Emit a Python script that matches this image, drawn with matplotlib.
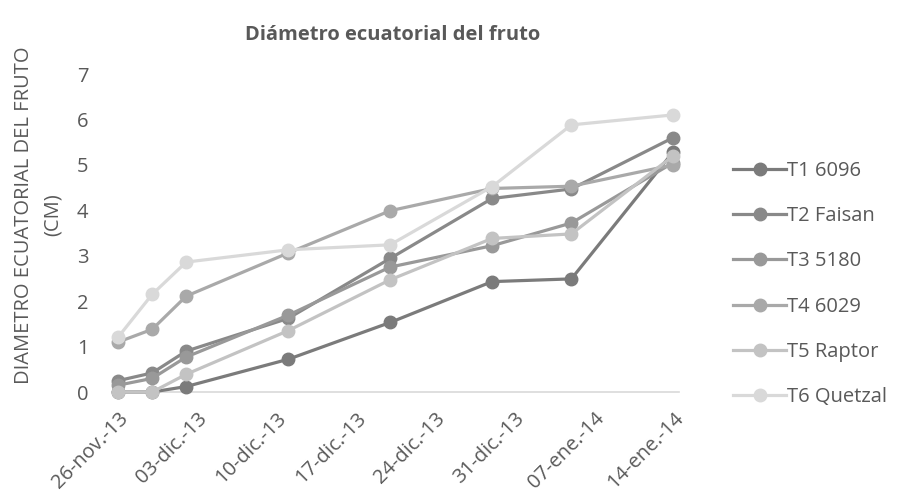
import pandas as pd
import matplotlib.pyplot as plt
import matplotlib.dates as mdates

# Fechas de muestreo y diametro ecuatorial (cm) por tratamiento
fechas = pd.to_datetime(["2013-11-26", "2013-11-29", "2013-12-02", "2013-12-11",
                         "2013-12-20", "2013-12-29", "2014-01-05", "2014-01-14"])
t1 = [0.00, 0.00, 0.12, 0.72, 1.53, 2.43, 2.49, 5.29]
t2 = [0.25, 0.42, 0.90, 1.62, 2.94, 4.26, 4.47, 5.60]
t3 = [0.15, 0.30, 0.77, 1.69, 2.75, 3.22, 3.72, 5.05]
t4 = [1.10, 1.38, 2.11, 3.06, 3.99, 4.48, 4.53, 5.00]
t5 = [0.00, 0.00, 0.39, 1.35, 2.47, 3.38, 3.48, 5.20]
t6 = [1.21, 2.15, 2.86, 3.13, 3.24, 4.52, 5.88, 6.10]

series = [t1, t2, t3, t4, t5, t6]
nombres = ["T1 6096", "T2 Faisan", "T3 5180", "T4 6029", "T5 Raptor", "T6 Quetzal"]
colores = ["#7b7b7b", "#898989", "#999999", "#a9a9a9", "#c3c3c3", "#d9d9d9"]

tick_fechas = pd.date_range("2013-11-26", "2014-01-14", freq="7D")
tick_labels = ["26-nov.-13", "03-dic.-13", "10-dic.-13", "17-dic.-13",
               "24-dic.-13", "31-dic.-13", "07-ene.-14", "14-ene.-14"]

plt.rcParams["font.family"] = ["Open Sans", "DejaVu Sans"]
gris = "#595959"
fs = 14.5

fig = plt.figure(figsize=(8.97, 4.95), dpi=100)
ax = fig.add_axes([112 / 897, 1 - 392 / 495, (679 - 112) / 897, (392 - 74) / 495])

for y, nombre, color in zip(series, nombres, colores):
    ax.plot(fechas, y, color=color, lw=2.3, marker="o", markersize=9,
            label=nombre, clip_on=False)

x0 = mdates.date2num(pd.Timestamp("2013-11-26"))
x1 = mdates.date2num(pd.Timestamp("2014-01-14"))
ax.set_xlim(x0 - 0.55, x1 + 0.5)
ax.set_ylim(0, 7)
ax.set_yticks(range(0, 8))
ax.set_xticks(mdates.date2num(tick_fechas))
ax.set_xticklabels(tick_labels, rotation=45, ha="right", rotation_mode="anchor")

for s in ["top", "right", "left"]:
    ax.spines[s].set_visible(False)
ax.spines["bottom"].set_color("#d9d9d9")
ax.spines["bottom"].set_linewidth(1.2)
ax.spines["bottom"].set_zorder(0)
ax.tick_params(axis="both", length=0, colors=gris, labelsize=fs)
ax.tick_params(axis="y", pad=17)
ax.tick_params(axis="x", pad=12)

fig.text(38.5 / 897, 1 - 215 / 495, "DIAMETRO ECUATORIAL DEL FRUTO\n(CM)",
         rotation=90, ha="center", va="center", fontsize=fs, color=gris,
         linespacing=1.6)

fig.text(393 / 897, 1 - 35 / 495, "Diámetro ecuatorial del fruto", ha="center",
         va="center", fontsize=14.5, fontweight="bold", color=gris)

ax.legend(loc="center left", bbox_to_anchor=(733 / 897, 1 - 284 / 495),
          bbox_transform=fig.transFigure, frameon=False, fontsize=fs,
          handlelength=2.65, handletextpad=0.05, labelspacing=1.25,
          borderpad=0, borderaxespad=0, labelcolor=gris)

fig.savefig("out.png", dpi=100)
